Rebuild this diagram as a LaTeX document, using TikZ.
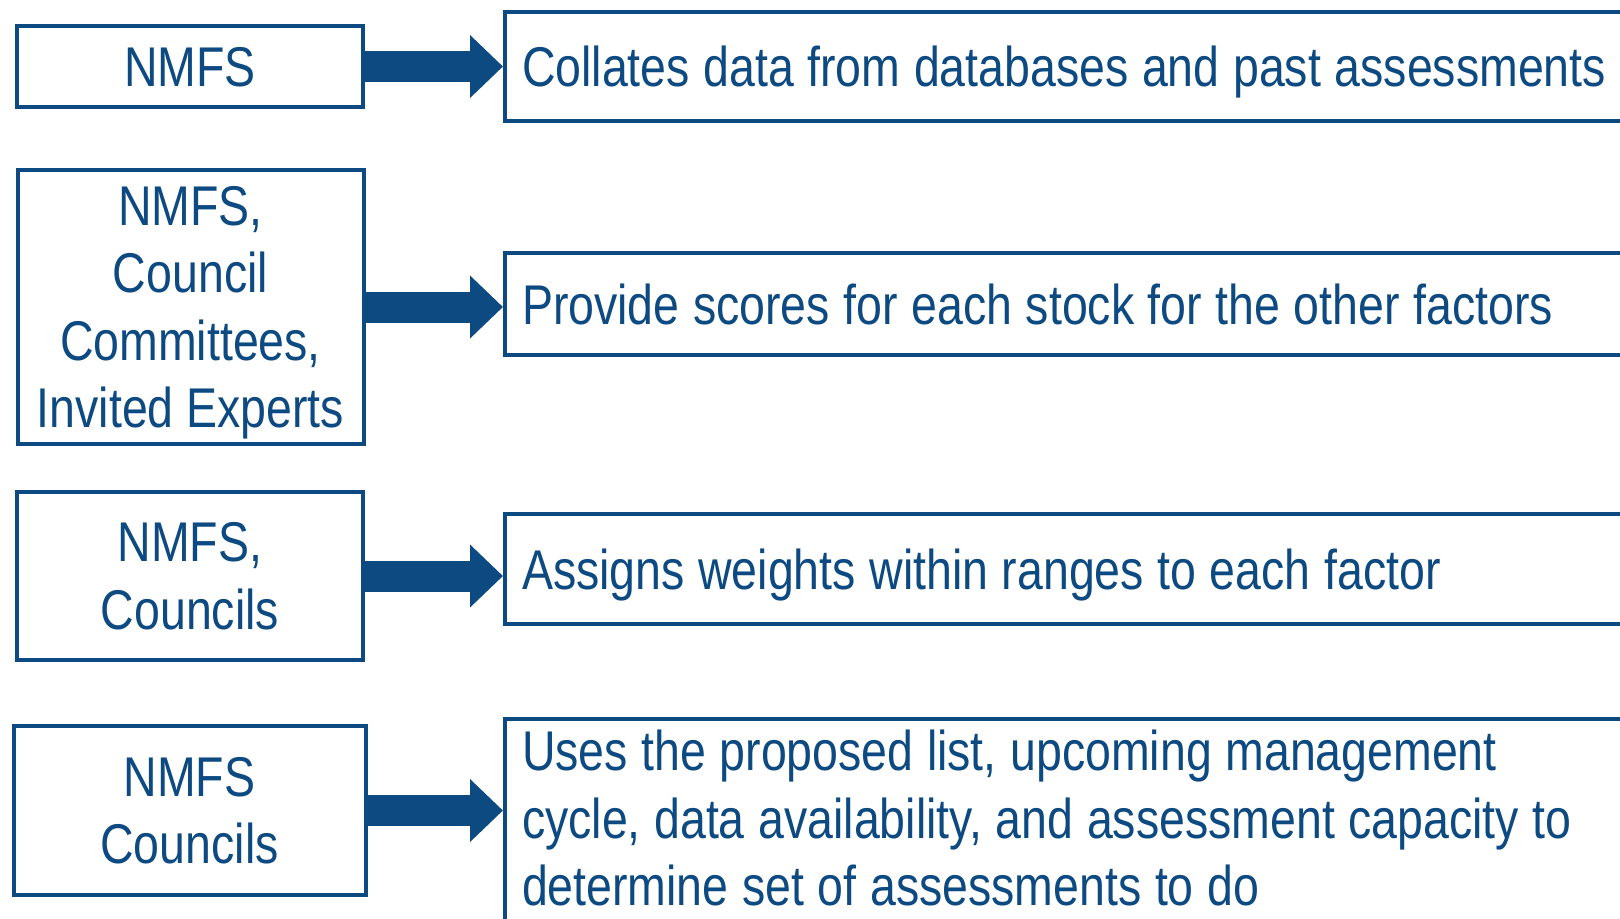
\documentclass[tikz,border=0pt]{standalone}
\usepackage{fontspec}
\setmainfont{Liberation Sans}[FakeStretch=0.83]
\usetikzlibrary{arrows.meta}
\definecolor{nmfsblue}{RGB}{14,74,130}
\tikzset{>=stealth}
\tikzset{
	who/.style={draw=nmfsblue, line width=2pt, text=nmfsblue, align=center, text depth=0pt,
		minimum width=173pt, inner sep=2pt, font=\fontsize{28}{33.75}\selectfont},
	task/.style={draw=nmfsblue, line width=2pt, text=nmfsblue, align=left, text depth=0pt,
		text width=600pt, inner xsep=8.5pt, anchor=west, font=\fontsize{28}{33.75}\selectfont,
		execute at begin node={\spaceskip=6.8pt\relax}},
	fatarrow/.style={draw=nmfsblue, line width=15.5pt, -{Triangle[length=16.5pt, width=30.5pt]}}
}

\begin{document}
\begin{tikzpicture}[x=0.5pt, y=-0.5pt]
	\clip (0,0) rectangle (1620,918);
	% who does it
	\node [who, minimum height=40.5pt] (who1) at (190,66.5) {NMFS};
	\node [who, minimum height=137pt] (who2) at (190.5,307) {NMFS,\\Council\\Committees,\\Invited Experts};
	\node [who, minimum height=84pt] (who3) at (190,576) {NMFS,\\Councils};
	\node [who, minimum height=84.5pt, minimum width=176pt] (who4) at (189.5,810.5) {NMFS\\Councils};
	% what they do
	\node [task, minimum height=54.5pt] (task1) at (503,66.5) {Collates data from databases and past assessments};
	\node [task, minimum height=51pt] (task2) at (503,304) {Provide scores for each stock for the other factors};
	\node [task, minimum height=55pt] (task3) at (503,569) {Assigns weights within ranges to each factor};
	\node [task, anchor=north west, inner ysep=5.5pt, text depth=100pt] (task4) at (503,717)
		{Uses the proposed list, upcoming management\\cycle, data availability, and assessment capacity to\\determine set of assessments to do};
	% arrows
	\foreach \i in {1,...,4}
		\draw [fatarrow] (who\i.east) -- (who\i.east -| task\i.west);
\end{tikzpicture}
\end{document}
